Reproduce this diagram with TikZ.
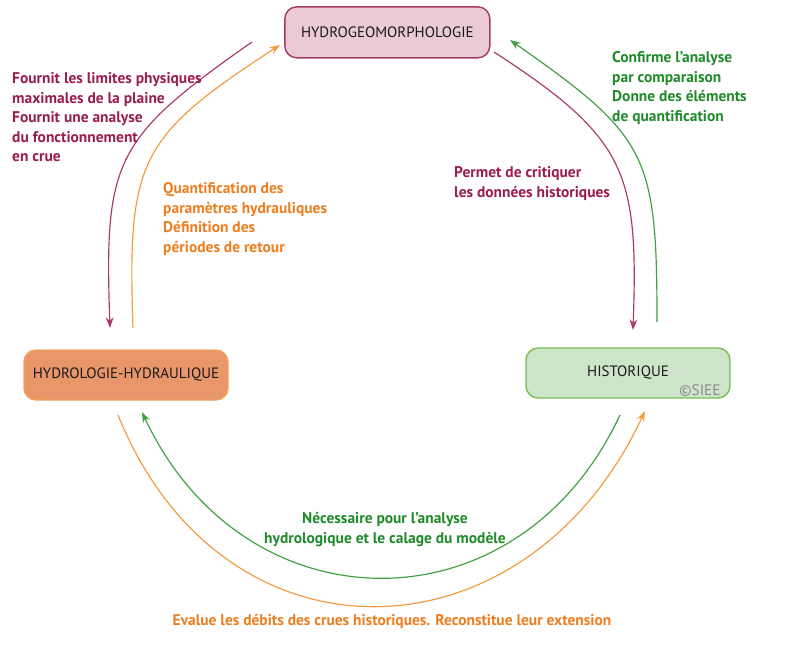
\documentclass[tikz,border=0pt]{standalone}
\usepackage{fontspec}
\setmainfont{PT Sans}
\usetikzlibrary{arrows.meta}
\definecolor{maroon}{HTML}{9A1C50}
\definecolor{maroonarc}{HTML}{A8396A}
\definecolor{orangetxt}{HTML}{EE7D1E}
\definecolor{orangearc}{HTML}{F39B3F}
\definecolor{greentxt}{HTML}{1F8A2A}
\definecolor{greenarc}{HTML}{3FA03F}
\definecolor{geoline}{HTML}{A23A64}
\definecolor{geofill}{HTML}{EACAD6}
\definecolor{hydroline}{HTML}{F2A35F}
\definecolor{hydrofill}{HTML}{E9966A}
\definecolor{histoline}{HTML}{78BE55}
\definecolor{histofill}{HTML}{CDE5C9}

\begin{document}
\begin{tikzpicture}[
  box/.style={rounded corners=0.36cm,line width=1.2pt,minimum width=6.12cm,
    minimum height=1.5cm,text=black!90,font=\fontsize{12.8}{14}\selectfont},
  lbl/.style={font=\bfseries\fontsize{13.2}{16.7}\selectfont,align=left,
    inner sep=0pt,anchor=north west},
  arc/.style={line width=1pt,-{Stealth[length=9pt,width=6.5pt]}}]
\useasboundingbox (0,0) rectangle (23.64,19.47);
% the three domains
\node[box,draw=geoline,fill=geofill,minimum width=6.15cm,minimum height=1.53cm]
  (geo) at (11.62,18.5) {HYDROGEOMORPHOLOGIE};
\node[box,draw=hydroline,fill=hydrofill] (hydro) at (3.78,8.22) {HYDROLOGIE-HYDRAULIQUE};
\node[box,draw=histoline,fill=histofill] (histo) at (18.84,8.28) {HISTORIQUE};
\node[text=black!45,font=\fontsize{13}{14}\selectfont,inner sep=0pt] (siee) at (21.0,7.74) {©SIEE};
% arc ends
\coordinate (a1) at (7.56,18.21);  \coordinate (a2) at (3.30,9.63);
\coordinate (b1) at (3.99,9.63);   \coordinate (b2) at (8.40,18.12);
\coordinate (c1) at (14.82,17.91); \coordinate (c2) at (18.99,9.57);
\coordinate (d1) at (19.71,9.81);  \coordinate (d2) at (15.30,18.27);
\coordinate (e1) at (18.60,7.02);  \coordinate (e2) at (4.26,7.11);
\coordinate (f1) at (3.54,7.02);   \coordinate (f2) at (19.35,7.14);
\draw[arc,maroonarc] (a1) to[out=215,in=92,looseness=1.35] (a2);
\draw[arc,orangearc] (b1) to[out=92,in=213,looseness=1.35] (b2);
\draw[arc,maroonarc] (c1) to[out=-33,in=88,looseness=1.3] (c2);
\draw[arc,greenarc] (d1) to[out=90,in=-35,looseness=1.35] (d2);
\draw[arc,greenarc] (e1) to[out=245,in=295,looseness=1.29] (e2);
\draw[arc,orangearc] (f1) to[out=-68,in=245,looseness=1.36] (f2);
% labels
\node[lbl,text=maroon] (fournit) at (0.36,17.30)
  {Fournit les limites physiques\\maximales de la plaine\\Fournit une analyse\\du fonctionnement\\en crue};
\node[lbl,text=orangetxt] (quantif) at (4.89,14.00)
  {Quantification des\\paramètres hydrauliques\\Définition des\\périodes de retour};
\node[lbl,text=greentxt] (confirme) at (18.36,17.93)
  {Confirme l'analyse\\par comparaison\\Donne des éléments\\de quantification};
\node[lbl,text=maroon] (permet) at (13.62,14.48)
  {Permet de critiquer\\les données historiques};
\node[lbl,text=greentxt,align=center,anchor=north] (necessaire) at (11.55,4.10)
  {Nécessaire pour l'analyse\\hydrologique et le calage du modèle};
\node[lbl,text=orangetxt,anchor=center] (evalue) at (11.76,0.82)
  {Evalue les débits des crues historiques. Reconstitue leur extension};
\end{tikzpicture}
\end{document}
